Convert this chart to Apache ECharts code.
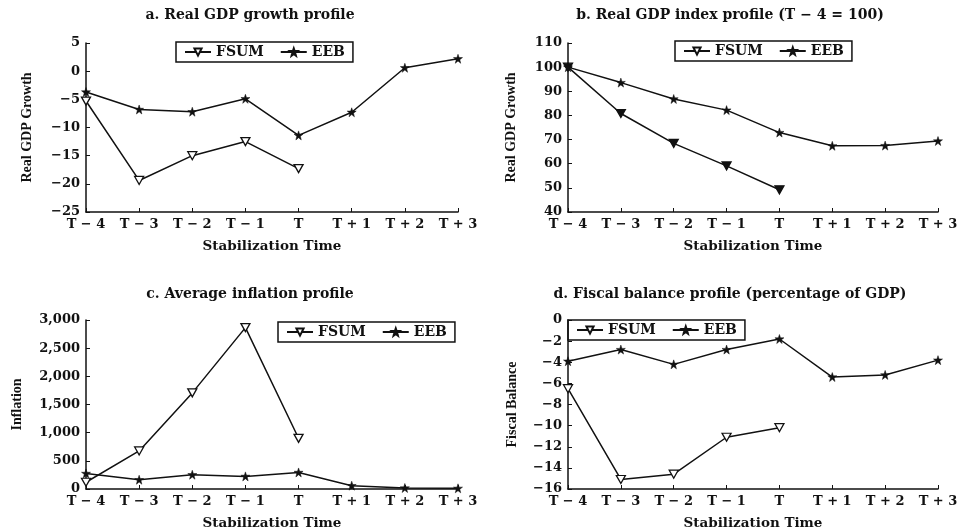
<!DOCTYPE html>
<html>
<head>
<meta charset="utf-8">
<script src="https://cdn.jsdelivr.net/npm/echarts@6/dist/echarts.min.js"></script>
<style>
  html, body { margin: 0; padding: 0; background: #fff; }
  #main { width: 962px; height: 531px; }
</style>
</head>
<body>
<div id="main"></div>
<script>
var categories = ['T \u2212 4', 'T \u2212 3', 'T \u2212 2', 'T \u2212 1', 'T', 'T + 1', 'T + 2', 'T + 3'];

// a. real GDP growth
var growthFSUM = [-5.3, -19.4, -15.0, -12.5, -17.3];
var growthEEB = [-3.7, -6.8, -7.2, -4.9, -11.4, -7.3, 0.6, 2.2];
// b. real GDP index (T-4 = 100)
var indexFSUM = [100, 80.8, 68.4, 59.1, 49.2];
var indexEEB = [100, 93.6, 86.8, 82.2, 72.9, 67.4, 67.5, 69.4];
// c. average inflation
var inflFSUM = [120, 676, 1706, 2865, 900];
var inflEEB = [276, 165, 253, 224, 294, 59, 18, 12];
// d. fiscal balance (% of GDP)
var fiscalFSUM = [-6.5, -15.1, -14.6, -11.1, -10.2];
var fiscalEEB = [-3.9, -2.8, -4.2, -2.8, -1.8, -5.4, -5.2, -3.8];

var titles = [
  'a. Real GDP growth profile',
  'b. Real GDP index profile (T \u2212 4 = 100)',
  'c. Average inflation profile',
  'd. Fiscal balance profile (percentage of GDP)'
];
var yNames = ['Real GDP Growth', 'Real GDP Growth', 'Inflation', 'Fiscal Balance'];
var yMin = [-25, 40, 0, -16];
var yMax = [5, 110, 3000, 0];
var yStep = [5, 10, 500, 2];

var font = 'DejaVu Serif';
var nameFont = 'Liberation Serif';
var ink = '#111';
var triPath = 'path://M0,0L10,0L5,9Z';
var starPath = 'path://M5,0L6.2,3.5L10,3.5L7,5.7L8,9.5L5,7.2L2,9.5L3,5.7L0,3.5L3.8,3.5Z';

var grids = [
  { left: 86, top: 43, width: 372, height: 169 },
  { left: 568, top: 43, width: 370, height: 169 },
  { left: 86, top: 320, width: 372, height: 169 },
  { left: 568, top: 320, width: 370, height: 169 }
];
var titlePos = [[250, 15], [730, 15], [250, 294], [730, 294]];
var yGaps = [52, 50, 62, 49];
var legendPos = [[176, 42], [675, 41], [278, 322], [568, 320]];

function fmtY(i) {
  return function (v) {
    var s = Math.abs(v).toString();
    if (i === 2) s = Math.abs(v).toLocaleString('en-US');
    return (v < 0 ? '\u2212' : '') + s;
  };
}

var chart = echarts.init(document.getElementById('main'));

var xAxes = [], yAxes = [], series = [], legends = [], graphics = [];
var fsumSets = [growthFSUM, indexFSUM, inflFSUM, fiscalFSUM];
var eebSets = [growthEEB, indexEEB, inflEEB, fiscalEEB];

for (var i = 0; i < 4; i++) {
  xAxes.push({
    type: 'category', gridIndex: i, data: categories, boundaryGap: false,
    name: 'Stabilization Time', nameLocation: 'middle', nameGap: 27,
    nameTextStyle: { fontFamily: font, fontWeight: 'bold', fontSize: 13.5, color: ink },
    axisLine: { onZero: false, lineStyle: { color: ink, width: 1.5 } },
    axisTick: { inside: true, length: 4, lineStyle: { color: ink } },
    axisLabel: { fontFamily: font, fontWeight: 'bold', fontSize: 13, color: ink, margin: 6, interval: 0 },
    splitLine: { show: false }
  });
  yAxes.push({
    type: 'value', gridIndex: i, min: yMin[i], max: yMax[i], interval: yStep[i],
    name: yNames[i], nameLocation: 'middle', nameGap: yGaps[i], nameRotate: 90,
    nameTextStyle: { fontFamily: nameFont, fontWeight: 'bold', fontSize: 14, color: ink },
    axisLine: { show: true, onZero: false, lineStyle: { color: ink, width: 1.5 } },
    axisTick: { show: true, inside: true, length: 4, lineStyle: { color: ink } },
    axisLabel: { fontFamily: font, fontWeight: 'bold', fontSize: 13, color: ink, margin: 6, formatter: fmtY(i) },
    splitLine: { show: false }
  });
  series.push({
    name: 'FSUM', type: 'line', xAxisIndex: i, yAxisIndex: i, data: fsumSets[i],
    symbol: triPath, symbolSize: [9, 8], showAllSymbol: true,
    lineStyle: { color: ink, width: 1.5 },
    itemStyle: { color: i === 1 ? ink : '#fff', borderColor: ink, borderWidth: 1.3 },
    emphasis: { disabled: true }, animation: false
  });
  series.push({
    name: 'EEB', type: 'line', xAxisIndex: i, yAxisIndex: i, data: eebSets[i],
    symbol: starPath, symbolSize: 9, showAllSymbol: true,
    lineStyle: { color: ink, width: 1.5 },
    itemStyle: { color: ink, borderColor: ink, borderWidth: 0.5 },
    emphasis: { disabled: true }, animation: false
  });
  legends.push({
    left: legendPos[i][0], top: legendPos[i][1],
    data: ['FSUM', 'EEB'], selectedMode: false,
    borderColor: ink, borderWidth: 1.5, padding: [3, 8, 3, 8], itemGap: 16,
    itemWidth: 26, itemHeight: 9,
    textStyle: { fontFamily: font, fontWeight: 'bold', fontSize: 14, color: ink }
  });
  graphics.push({
    type: 'text', x: titlePos[i][0], y: titlePos[i][1],
    style: {
      text: titles[i], fill: ink, align: 'center', verticalAlign: 'middle',
      font: 'bold 14px "' + font + '"'
    }
  });
}

var option = {
  backgroundColor: '#fff',
  animation: false,
  grid: grids,
  xAxis: xAxes,
  yAxis: yAxes,
  legend: legends,
  series: series,
  graphic: graphics
};

chart.setOption(option);
</script>
</body>
</html>
